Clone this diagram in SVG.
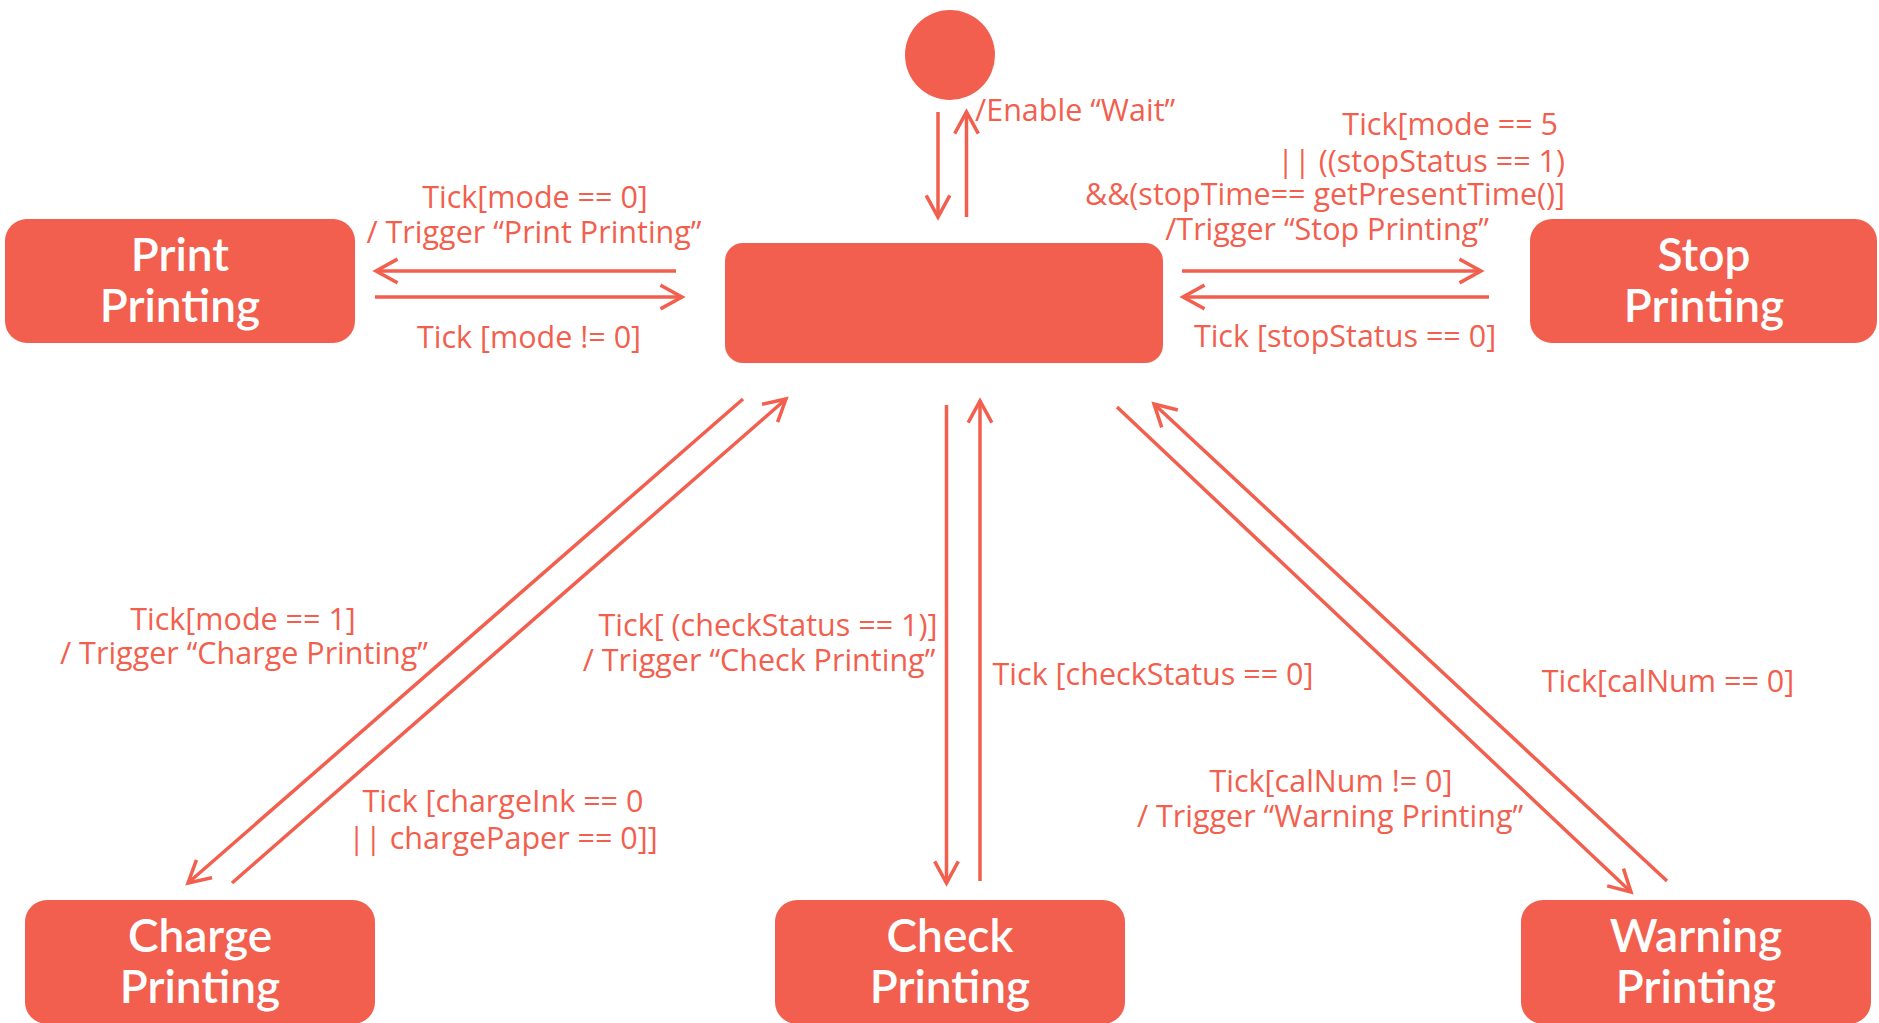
<svg xmlns="http://www.w3.org/2000/svg" width="1879" height="1023" viewBox="0 0 1879 1023">
<defs>
<style>
.node{fill:#F25F4E;}
.nl{fill:#FFFFFF;font-family:Lato,"Open Sans",sans-serif;font-weight:600;font-size:46px;text-anchor:middle;}
.el{fill:#F25F4E;font-family:"Open Sans",Lato,sans-serif;font-weight:500;font-size:30.5px;}
.c{stroke:#F25F4E;stroke-width:3.5;fill:none;marker-end:url(#ah);}
</style>
<marker id="ah" markerUnits="userSpaceOnUse" viewBox="-24 -14 28 28" refX="0" refY="0" markerWidth="28" markerHeight="28" orient="auto">
<path d="M-20,-11 L0,0 L-20,11" fill="none" stroke="#F25F4E" stroke-width="3.5" stroke-linecap="square"/>
</marker>
</defs>
<rect width="1879" height="1023" fill="#FFFFFF"/>
<g id="initial"><circle class="node" cx="950" cy="55" r="45"/></g>
<g id="wait"><rect class="node" x="725" y="243" width="438" height="120" rx="18"/></g>
<g id="print"><rect class="node" x="5" y="219" width="350" height="124" rx="22"/>
<text class="nl" x="180" y="271">Print</text><text class="nl" x="180" y="322">Printing</text></g>
<g id="stop"><rect class="node" x="1530" y="219" width="347" height="124" rx="22"/>
<text class="nl" x="1704" y="271">Stop</text><text class="nl" x="1704" y="322">Printing</text></g>
<g id="charge"><rect class="node" x="25" y="900" width="350" height="124" rx="22"/>
<text class="nl" x="200" y="952">Charge</text><text class="nl" x="200" y="1003">Printing</text></g>
<g id="check"><rect class="node" x="775" y="900" width="350" height="124" rx="22"/>
<text class="nl" x="950" y="952">Check</text><text class="nl" x="950" y="1003">Printing</text></g>
<g id="warning"><rect class="node" x="1521" y="900" width="350" height="124" rx="22"/>
<text class="nl" x="1696" y="952">Warning</text><text class="nl" x="1696" y="1003">Printing</text></g>
<g id="connectors">
<line class="c" x1="938" y1="112" x2="938" y2="217"/>
<line class="c" x1="966.5" y1="217" x2="966.5" y2="112"/>
<line class="c" x1="676" y1="271" x2="376" y2="271"/>
<line class="c" x1="375" y1="297" x2="682" y2="297"/>
<line class="c" x1="1182" y1="271" x2="1481" y2="271"/>
<line class="c" x1="1489" y1="297" x2="1183" y2="297"/>
<line class="c" x1="743" y1="399" x2="188" y2="883"/>
<line class="c" x1="232" y1="883" x2="786" y2="399"/>
<line class="c" x1="946.5" y1="405" x2="946.5" y2="883"/>
<line class="c" x1="980" y1="881" x2="980" y2="401"/>
<line class="c" x1="1117" y1="407" x2="1631" y2="892"/>
<line class="c" x1="1667" y1="881" x2="1154" y2="404"/>
</g>
<g id="labels">
<text class="el" x="975" y="121">/Enable “Wait”</text>
<text class="el" x="535" y="208" text-anchor="middle">Tick[mode == 0]</text>
<text class="el" x="534" y="243" text-anchor="middle">/ Trigger “Print Printing”</text>
<text class="el" x="529" y="348" text-anchor="middle">Tick [mode != 0]</text>
<text class="el" x="1558" y="135" text-anchor="end">Tick[mode == 5</text>
<text class="el" x="1565" y="172" text-anchor="end">|| ((stopStatus == 1)</text>
<text class="el" x="1565" y="205" text-anchor="end">&amp;&amp;(stopTime== getPresentTime()]</text>
<text class="el" x="1327" y="240" text-anchor="middle">/Trigger “Stop Printing”</text>
<text class="el" x="1345" y="347" text-anchor="middle">Tick [stopStatus == 0]</text>
<text class="el" x="243" y="630" text-anchor="middle">Tick[mode == 1]</text>
<text class="el" x="244" y="664" text-anchor="middle">/ Trigger “Charge Printing”</text>
<text class="el" x="768" y="636" text-anchor="middle">Tick[ (checkStatus == 1)]</text>
<text class="el" x="759" y="671" text-anchor="middle">/ Trigger “Check Printing”</text>
<text class="el" x="503" y="812" text-anchor="middle">Tick [chargeInk == 0</text>
<text class="el" x="503" y="849" text-anchor="middle">|| chargePaper == 0]]</text>
<text class="el" x="1153" y="685" text-anchor="middle">Tick [checkStatus == 0]</text>
<text class="el" x="1668" y="692" text-anchor="middle">Tick[calNum == 0]</text>
<text class="el" x="1331" y="792" text-anchor="middle">Tick[calNum != 0]</text>
<text class="el" x="1330" y="827" text-anchor="middle">/ Trigger “Warning Printing”</text>
</g>
</svg>
